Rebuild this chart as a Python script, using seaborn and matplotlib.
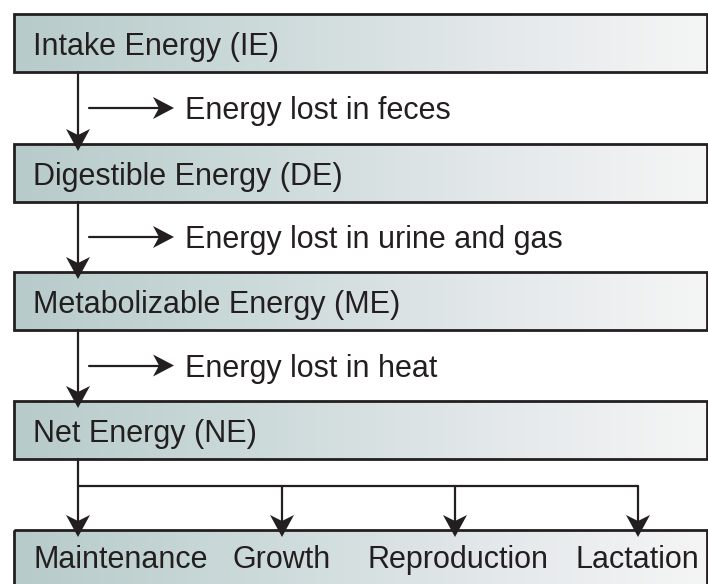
import numpy as np
import matplotlib.pyplot as plt
from matplotlib.patches import Rectangle, Polygon
import seaborn as sns

# energy flow labels
stages = ["Intake Energy (IE)", "Digestible Energy (DE)", "Metabolizable Energy (ME)", "Net Energy (NE)"]
losses = ["Energy lost in feces", "Energy lost in urine and gas", "Energy lost in heat"]
uses = ["Maintenance", "Growth", "Reproduction", "Lactation"]

sns.set_theme(style="white")
plt.rcParams['font.family'] = ['Liberation Sans', 'DejaVu Sans']

W, H = 708, 584
fig = plt.figure(figsize=(W / 100, H / 100), dpi=100)
ax = fig.add_axes([0, 0, 1, 1])
ax.set_xlim(0, W)
ax.set_ylim(H, 0)
ax.axis("off")

# gradient colour for the boxes
cmap = sns.blend_palette(["#b7cbca", "#cbd9d9", "#e2e7e9", "#f5f5f5"], as_cmap=True)
grad = np.linspace(0, 1, 256).reshape(1, -1)

box_left, box_right, box_h = 14, 707, 58
box_tops = [14, 144, 272, 401, 530]
stem_x = 78
lw = 1.6
fs = 22
dy_txt = 3


def box(top, h):
    ax.imshow(grad, cmap=cmap, aspect="auto", extent=(box_left, box_right, top + h, top), zorder=1)
    ax.add_patch(Rectangle((box_left, top), box_right - box_left, h, fill=False,
                           ec="#231f20", lw=2, zorder=3))


def head(tx, ty, dx, dy, L=21, Wd=12, notch=6):
    nx, ny = -dy, dx
    pts = [(tx, ty),
           (tx - L * dx + Wd * nx, ty - L * dy + Wd * ny),
           (tx - (L - notch) * dx, ty - (L - notch) * dy),
           (tx - L * dx - Wd * nx, ty - L * dy - Wd * ny)]
    ax.add_patch(Polygon(pts, closed=True, fc="#231f20", ec="none", zorder=5))


for i, top in enumerate(box_tops):
    box(top, box_h if i < 4 else 70)

for i, name in enumerate(stages):
    ax.text(33, box_tops[i] + box_h / 2 + 1 + dy_txt, name, fontsize=fs, color="#231f20",
            va="center", ha="left", zorder=4)

# vertical stems and loss arrows between stages
for i, loss in enumerate(losses):
    y0 = box_tops[i] + box_h
    y1 = box_tops[i + 1]
    ax.plot([stem_x, stem_x], [y0, y1 + 2], color="#231f20", lw=lw, zorder=4)
    head(stem_x, y1 + 7, 0, 1, L=22, Wd=12)
    ym = (y0 + y1) / 2
    ax.plot([89, 160], [ym, ym], color="#231f20", lw=lw, zorder=4)
    head(174, ym, 1, 0, L=21, Wd=11)
    ax.text(185, ym + dy_txt, loss, fontsize=fs, color="#231f20", va="center", ha="left", zorder=4)

# branching to the uses
use_x = [stem_x, 282, 455, 638]
branch_y = 486
y0 = box_tops[3] + box_h
ax.plot([stem_x, stem_x], [y0, box_tops[4] + 2], color="#231f20", lw=lw, zorder=4)
ax.plot([stem_x, use_x[-1]], [branch_y, branch_y], color="#231f20", lw=lw, zorder=4)
for x in use_x:
    if x != stem_x:
        ax.plot([x, x], [branch_y, box_tops[4] + 2], color="#231f20", lw=lw, zorder=4)
    head(x, box_tops[4] + 7, 0, 1, L=22, Wd=12)

use_left = [33, 233, 367, 575]
for x, name in zip(use_left, uses):
    ax.text(x, 557 + dy_txt, name, fontsize=fs, color="#231f20", va="center", ha="left", zorder=4)

fig.savefig("out.png", dpi=100)
